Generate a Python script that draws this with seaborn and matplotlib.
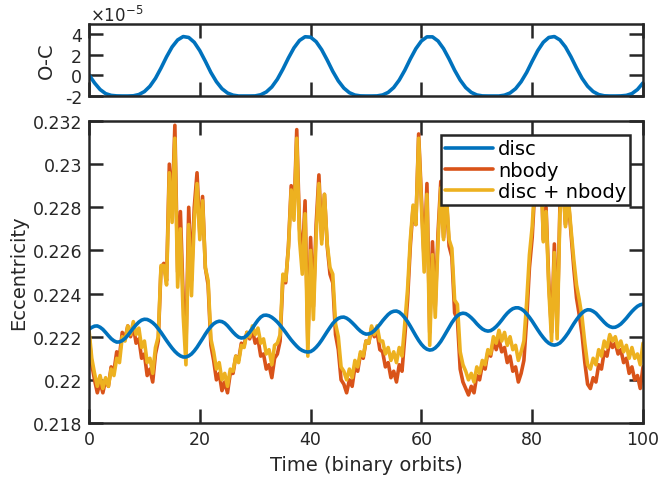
import numpy as np
import pandas as pd
import matplotlib
matplotlib.use("Agg")
import matplotlib.pyplot as plt
import seaborn as sns

# ---------------- data ----------------
time = np.linspace(0, 100, 201)          # binary orbits, step 0.5

disc = [0.22235, 0.22243, 0.22249, 0.22250, 0.22244, 0.22234, 0.22220, 0.22205, 0.22191, 0.22181, 0.22175,
        0.22176, 0.22182, 0.22192, 0.22206, 0.22223, 0.22240, 0.22255, 0.22268, 0.22277, 0.22281,
        0.22280, 0.22274, 0.22265, 0.22253, 0.22237, 0.22220, 0.22201, 0.22182, 0.22164, 0.22147,
        0.22132, 0.22120, 0.22111, 0.22106, 0.22106, 0.22111, 0.22120, 0.22134, 0.22151, 0.22171,
        0.22191, 0.22212, 0.22231, 0.22247, 0.22260, 0.22268, 0.22272, 0.22270, 0.22263, 0.22251,
        0.22236, 0.22221, 0.22208, 0.22198, 0.22194, 0.22196, 0.22206, 0.22221, 0.22239, 0.22259,
        0.22277, 0.22291, 0.22299, 0.22300, 0.22297, 0.22290, 0.22280, 0.22268, 0.22253, 0.22237,
        0.22220, 0.22202, 0.22185, 0.22170, 0.22156, 0.22144, 0.22136, 0.22131, 0.22129, 0.22131,
        0.22139, 0.22151, 0.22166, 0.22184, 0.22204, 0.22224, 0.22243, 0.22261, 0.22275, 0.22285,
        0.22290, 0.22291, 0.22286, 0.22277, 0.22265, 0.22252, 0.22238, 0.22226, 0.22217, 0.22212,
        0.22213, 0.22218, 0.22228, 0.22242, 0.22257, 0.22274, 0.22289, 0.22303, 0.22313, 0.22318,
        0.22319, 0.22314, 0.22303, 0.22288, 0.22270, 0.22249, 0.22226, 0.22204, 0.22183, 0.22165,
        0.22151, 0.22142, 0.22138, 0.22140, 0.22148, 0.22161, 0.22178, 0.22199, 0.22221, 0.22244,
        0.22265, 0.22283, 0.22297, 0.22306, 0.22309, 0.22307, 0.22299, 0.22288, 0.22275, 0.22260,
        0.22247, 0.22236, 0.22229, 0.22226, 0.22228, 0.22236, 0.22247, 0.22261, 0.22277, 0.22294,
        0.22309, 0.22321, 0.22330, 0.22334, 0.22334, 0.22329, 0.22320, 0.22306, 0.22290, 0.22272,
        0.22252, 0.22232, 0.22213, 0.22196, 0.22181, 0.22170, 0.22163, 0.22161, 0.22164, 0.22171,
        0.22184, 0.22200, 0.22218, 0.22239, 0.22260, 0.22279, 0.22296, 0.22310, 0.22320, 0.22325,
        0.22324, 0.22318, 0.22309, 0.22295, 0.22281, 0.22267, 0.22255, 0.22247, 0.22243, 0.22244,
        0.22250, 0.22259, 0.22272, 0.22286, 0.22302, 0.22317, 0.22330, 0.22341, 0.22348, 0.22351]

nbody = [0.2221, 0.2207, 0.2200, 0.2194, 0.2199, 0.2194, 0.2200, 0.2197, 0.2206, 0.2204, 0.2213,
         0.2211, 0.2222, 0.2219, 0.2225, 0.2220, 0.2225, 0.2217, 0.2219, 0.2210, 0.2212,
         0.2202, 0.2205, 0.2199, 0.2212, 0.2218, 0.2252, 0.2254, 0.2246, 0.2300, 0.2278,
         0.2318, 0.2250, 0.2278, 0.2238, 0.2215, 0.2280, 0.2246, 0.2280, 0.2296, 0.2268,
         0.2285, 0.2252, 0.2244, 0.2216, 0.2209, 0.2200, 0.2203, 0.2195, 0.2199, 0.2194,
         0.2203, 0.2203, 0.2211, 0.2209, 0.2217, 0.2216, 0.2222, 0.2219, 0.2223, 0.2217,
         0.2219, 0.2211, 0.2212, 0.2205, 0.2207, 0.2201, 0.2210, 0.2212, 0.2218, 0.2247,
         0.2245, 0.2262, 0.2290, 0.2277, 0.2316, 0.2270, 0.2255, 0.2283, 0.2217, 0.2266,
         0.2234, 0.2272, 0.2295, 0.2265, 0.2286, 0.2262, 0.2249, 0.2245, 0.2221, 0.2214,
         0.2200, 0.2198, 0.2194, 0.2200, 0.2197, 0.2206, 0.2204, 0.2212, 0.2210, 0.2218,
         0.2217, 0.2224, 0.2220, 0.2222, 0.2214, 0.2213, 0.2206, 0.2208, 0.2201, 0.2204,
         0.2199, 0.2207, 0.2204, 0.2220, 0.2237, 0.2262, 0.2280, 0.2272, 0.2314, 0.2285,
         0.2255, 0.2291, 0.2222, 0.2264, 0.2234, 0.2268, 0.2292, 0.2266, 0.2285, 0.2262,
         0.2257, 0.2231, 0.2228, 0.2205, 0.2199, 0.2196, 0.2193, 0.2197, 0.2194, 0.2202,
         0.2200, 0.2207, 0.2205, 0.2213, 0.2211, 0.2218, 0.2214, 0.2219, 0.2213, 0.2215,
         0.2208, 0.2211, 0.2204, 0.2206, 0.2199, 0.2203, 0.2209, 0.2228, 0.2252, 0.2266,
         0.2290, 0.2283, 0.2310, 0.2265, 0.2280, 0.2245, 0.2222, 0.2263, 0.2223, 0.2280,
         0.2296, 0.2272, 0.2284, 0.2268, 0.2252, 0.2238, 0.2230, 0.2221, 0.2208, 0.2198,
         0.2196, 0.2201, 0.2199, 0.2207, 0.2205, 0.2213, 0.2211, 0.2218, 0.2215, 0.2217,
         0.2212, 0.2214, 0.2208, 0.2210, 0.2203, 0.2206, 0.2200, 0.2202, 0.2196, 0.2206]

disc_nbody = [0.2223, 0.2210, 0.2203, 0.2197, 0.2202, 0.2196, 0.2201, 0.2197, 0.2205, 0.2202, 0.2210,
              0.2208, 0.2220, 0.2218, 0.2225, 0.2221, 0.2227, 0.2221, 0.2224, 0.2215, 0.2218,
              0.2208, 0.2210, 0.2203, 0.2215, 0.2220, 0.2253, 0.2253, 0.2244, 0.2296, 0.2273,
              0.2312, 0.2243, 0.2270, 0.2230, 0.2207, 0.2272, 0.2239, 0.2274, 0.2291, 0.2265,
              0.2283, 0.2252, 0.2246, 0.2219, 0.2213, 0.2205, 0.2208, 0.2200, 0.2203, 0.2197,
              0.2205, 0.2204, 0.2211, 0.2208, 0.2216, 0.2215, 0.2222, 0.2220, 0.2225, 0.2221,
              0.2224, 0.2217, 0.2219, 0.2212, 0.2214, 0.2207, 0.2216, 0.2217, 0.2221, 0.2249,
              0.2246, 0.2261, 0.2288, 0.2274, 0.2312, 0.2265, 0.2249, 0.2277, 0.2211, 0.2260,
              0.2228, 0.2267, 0.2291, 0.2263, 0.2286, 0.2263, 0.2252, 0.2249, 0.2226, 0.2220,
              0.2206, 0.2204, 0.2200, 0.2205, 0.2201, 0.2209, 0.2206, 0.2213, 0.2211, 0.2218,
              0.2217, 0.2225, 0.2221, 0.2225, 0.2218, 0.2218, 0.2212, 0.2215, 0.2209, 0.2213,
              0.2208, 0.2215, 0.2211, 0.2226, 0.2242, 0.2265, 0.2281, 0.2272, 0.2312, 0.2281,
              0.2250, 0.2286, 0.2216, 0.2258, 0.2229, 0.2264, 0.2289, 0.2265, 0.2286, 0.2265,
              0.2261, 0.2237, 0.2235, 0.2213, 0.2207, 0.2204, 0.2200, 0.2203, 0.2199, 0.2206,
              0.2203, 0.2209, 0.2207, 0.2214, 0.2212, 0.2220, 0.2217, 0.2223, 0.2218, 0.2222,
              0.2216, 0.2220, 0.2214, 0.2216, 0.2209, 0.2213, 0.2218, 0.2236, 0.2258, 0.2271,
              0.2293, 0.2285, 0.2310, 0.2264, 0.2278, 0.2242, 0.2218, 0.2259, 0.2219, 0.2277,
              0.2294, 0.2271, 0.2285, 0.2270, 0.2256, 0.2244, 0.2237, 0.2229, 0.2217, 0.2207,
              0.2205, 0.2210, 0.2207, 0.2214, 0.2211, 0.2218, 0.2215, 0.2221, 0.2218, 0.2220,
              0.2215, 0.2218, 0.2213, 0.2216, 0.2210, 0.2215, 0.2210, 0.2212, 0.2207, 0.2217]

oc_time = np.arange(0, 101)               # binary orbits, step 1
oc = [0.05, -0.73, -1.37, -1.77, -1.94, -1.99, -2.0, -2.0, -1.98, -1.86,
      -1.57, -1.05, -0.28, 0.72, 1.81, 2.77, 3.45, 3.78, 3.69, 3.22,
      2.41, 1.38, 0.29, -0.61, -1.29, -1.71, -1.92, -2.0, -2.0, -2.0,
      -1.99, -1.88, -1.61, -1.12, -0.37, 0.61, 1.70, 2.68, 3.40, 3.76,
      3.72, 3.28, 2.50, 1.49, 0.40, -0.53, -1.23, -1.68, -1.91, -1.99,
      -2.0, -2.0, -1.99, -1.90, -1.65, -1.18, -0.45, 0.50, 1.60, 2.60,
      3.35, 3.75, 3.75, 3.35, 2.60, 1.60, 0.50, -0.45, -1.18, -1.65,
      -1.90, -1.99, -2.0, -2.0, -2.0, -1.92, -1.71, -1.29, -0.61, 0.29,
      1.38, 2.41, 3.22, 3.69, 3.78, 3.45, 2.77, 1.81, 0.72, -0.28,
      -1.05, -1.57, -1.86, -1.98, -2.0, -2.0, -1.99, -1.94, -1.77, -1.37,
      -0.73]

series_labels = ["disc", "nbody", "disc + nbody"]
series_colors = ["#0072BD", "#D95319", "#EDB120"]
ecc_ticks = [0.218, 0.220, 0.222, 0.224, 0.226, 0.228, 0.230, 0.232]
ecc_ticklabels = ["0.218", "0.22", "0.222", "0.224", "0.226", "0.228", "0.23", "0.232"]
time_ticks = [0, 20, 40, 60, 80, 100]
time_ticklabels = ["0", "20", "40", "60", "80", "100"]
oc_ticks = [-2, 0, 2, 4]
oc_ticklabels = ["-2", "0", "2", "4"]

# ---------------- style ----------------
sns.set_style("white")
plt.rcParams["font.family"] = ["DejaVu Sans"]
AX = "#262626"
LW = 2.6

df = pd.DataFrame({
    "time": np.tile(time, 3),
    "ecc": np.concatenate([disc, nbody, disc_nbody]),
    "series": np.repeat(series_labels, len(time)),
})
df_oc = pd.DataFrame({"time": oc_time, "oc": oc})

W, H = 662, 481
fig = plt.figure(figsize=(W / 100, H / 100), dpi=100)
ax_top = fig.add_axes([89 / W, 1 - 97 / H, 554 / W, 72 / H])
ax = fig.add_axes([89 / W, 1 - 424 / H, 554 / W, 302 / H])

# bottom panel
zorders = {"disc": 5, "nbody": 3, "disc + nbody": 4}
for name, col in zip(series_labels, series_colors):
    sns.lineplot(data=df[df["series"] == name], x="time", y="ecc", color=col,
                 lw=LW, ax=ax, label=name, zorder=zorders[name],
                 estimator=None, sort=False)

# top panel
sns.lineplot(data=df_oc, x="time", y="oc", color=series_colors[0], lw=LW,
             ax=ax_top, estimator=None, sort=False, legend=False)

for a in (ax_top, ax):
    for s in a.spines.values():
        s.set_visible(True)
        s.set_linewidth(1.8)
        s.set_color(AX)
        s.set_zorder(10)
    a.tick_params(direction="in", length=10, width=1.8, color=AX,
                  top=True, right=True, bottom=True, left=True,
                  labelsize=12.5, labelcolor=AX, pad=5)
    a.set_xlim(0, 100)
    a.set_xticks(time_ticks)
    a.grid(False)
    a.set_facecolor("white")

ax.set_ylim(0.218, 0.232)
ax.set_yticks(ecc_ticks)
ax.set_yticklabels(ecc_ticklabels)
ax.set_xticklabels(time_ticklabels)
ax.set_xlabel("Time (binary orbits)", fontsize=14, color=AX)
ax.set_ylabel("Eccentricity", fontsize=14, color=AX)
ax.yaxis.set_label_coords(-0.11, 0.5)
ax.xaxis.set_label_coords(0.5, -0.105)

ax_top.set_ylim(-2, 5)
ax_top.set_yticks(oc_ticks)
ax_top.set_yticklabels(oc_ticklabels)
ax_top.tick_params(labelbottom=False)
ax_top.set_xlabel("")
ax_top.set_ylabel("O-C", fontsize=14, color=AX)
ax_top.yaxis.set_label_coords(-0.06, 0.5)
fig.text(90 / W, 1 - 22 / H, r"$\times10^{-5}$", fontsize=12, color=AX,
         ha="left", va="baseline")

handles, labels = ax.get_legend_handles_labels()
leg = ax.legend(handles, labels, loc="upper right", bbox_to_anchor=(0.977, 0.952),
                borderaxespad=0, fontsize=14, frameon=True, fancybox=False,
                framealpha=1, edgecolor=AX, handlelength=2.5, handletextpad=0.25,
                borderpad=0.2, labelspacing=0.12)
leg.get_frame().set_linewidth(1.8)
leg.set_zorder(20)
for t in leg.get_texts():
    t.set_color("black")

fig.savefig("out.png", dpi=100)
